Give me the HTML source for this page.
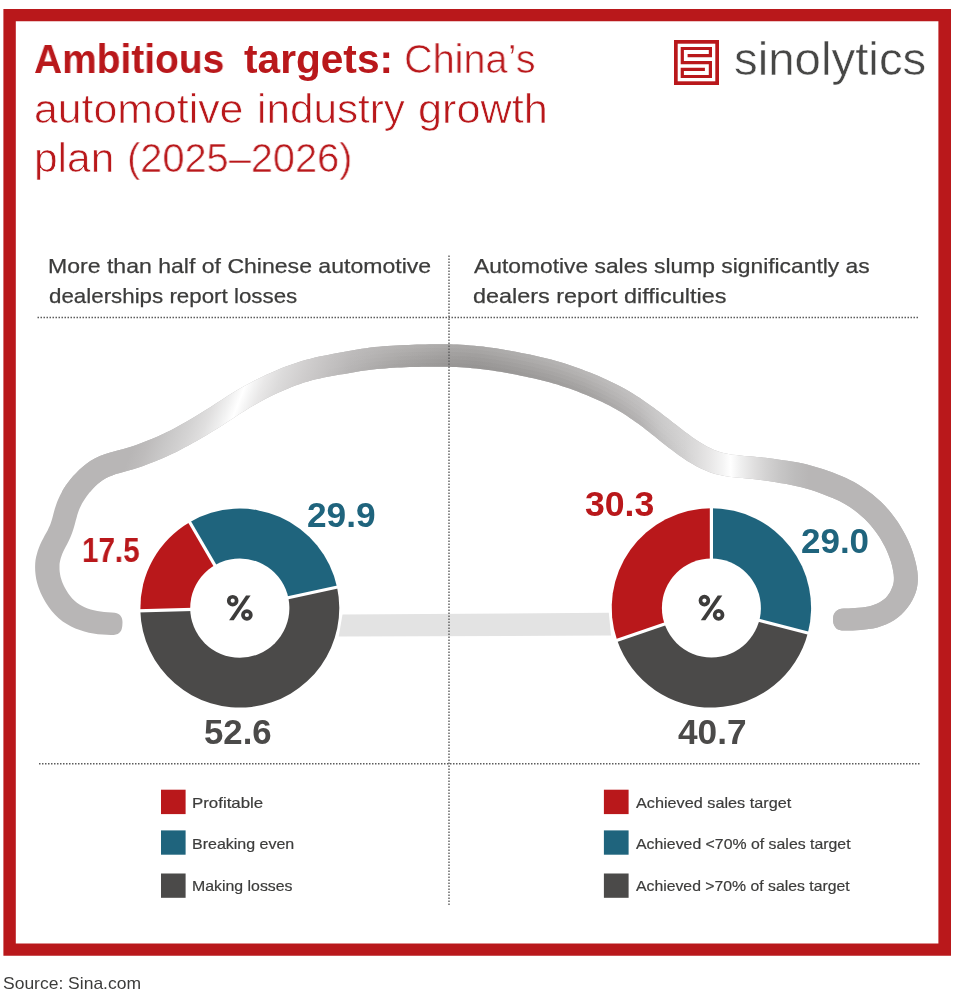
<!DOCTYPE html>
<html><head><meta charset="utf-8"><title>Ambitious targets</title>
<style>
html,body{margin:0;padding:0;background:#fff;}
body{width:961px;height:1003px;position:relative;overflow:hidden;font-family:"Liberation Sans",sans-serif;}
.t{position:absolute;white-space:nowrap;line-height:1;transform-origin:0 0;will-change:transform;}
svg{position:absolute;left:0;top:0;}
</style></head><body>
<svg width="961" height="1003" viewBox="0 0 961 1003">
<defs>
<linearGradient id="cgl" gradientUnits="userSpaceOnUse" x1="0" y1="0" x2="560.2" y2="215.0">
<stop offset="0.0000" stop-color="#b8b6b6"/>
<stop offset="0.4733" stop-color="#b8b6b6"/>
<stop offset="0.4950" stop-color="#bebcbc"/>
<stop offset="0.5200" stop-color="#c8c7c7"/>
<stop offset="0.5500" stop-color="#d4d3d3"/>
<stop offset="0.5733" stop-color="#e0dfdf"/>
<stop offset="0.5950" stop-color="#f0f0f0"/>
<stop offset="0.6117" stop-color="#ffffff"/>
<stop offset="0.6250" stop-color="#f3f3f3"/>
<stop offset="0.6383" stop-color="#e9e8e8"/>
<stop offset="0.6617" stop-color="#dcdbdb"/>
<stop offset="0.6967" stop-color="#cfcdcd"/>
<stop offset="0.7317" stop-color="#c3c1c1"/>
<stop offset="0.7617" stop-color="#bab8b8"/>
<stop offset="0.8350" stop-color="#acaaa9"/>
<stop offset="0.9100" stop-color="#a19f9e"/>
<stop offset="1.0000" stop-color="#9f9d9c"/>
</linearGradient>
<linearGradient id="cgr" gradientUnits="userSpaceOnUse" x1="449" y1="0" x2="949" y2="0">
<stop offset="0.0000" stop-color="#a19f9e"/>
<stop offset="0.0520" stop-color="#9f9d9c"/>
<stop offset="0.1620" stop-color="#a6a4a3"/>
<stop offset="0.2720" stop-color="#aeacab"/>
<stop offset="0.3820" stop-color="#bdbbbb"/>
<stop offset="0.4220" stop-color="#c8c7c7"/>
<stop offset="0.4470" stop-color="#cecdcd"/>
<stop offset="0.4720" stop-color="#d4d3d3"/>
<stop offset="0.4970" stop-color="#dddcdc"/>
<stop offset="0.5220" stop-color="#e8e7e7"/>
<stop offset="0.5468" stop-color="#f4f4f4"/>
<stop offset="0.5632" stop-color="#ffffff"/>
<stop offset="0.5840" stop-color="#efefef"/>
<stop offset="0.6094" stop-color="#e0dfdf"/>
<stop offset="0.6340" stop-color="#d3d2d2"/>
<stop offset="0.6620" stop-color="#c7c6c6"/>
<stop offset="0.6912" stop-color="#bdbcbc"/>
<stop offset="0.7200" stop-color="#b8b6b6"/>
<stop offset="1.0000" stop-color="#b8b6b6"/>
</linearGradient>
<linearGradient id="sw" gradientUnits="userSpaceOnUse" x1="320" y1="0" x2="700" y2="0">
<stop offset="0" stop-color="#fff" stop-opacity="0"/><stop offset="0.2105" stop-color="#fff" stop-opacity="0.085"/><stop offset="0.4079" stop-color="#fff" stop-opacity="0.11"/><stop offset="0.6974" stop-color="#fff" stop-opacity="0.125"/><stop offset="0.8421" stop-color="#fff" stop-opacity="0.1"/><stop offset="1" stop-color="#fff" stop-opacity="0"/>
</linearGradient>
<linearGradient id="sb" gradientUnits="userSpaceOnUse" x1="320" y1="0" x2="700" y2="0">
<stop offset="0" stop-color="#000" stop-opacity="0"/><stop offset="0.2105" stop-color="#000" stop-opacity="0.042"/><stop offset="0.4079" stop-color="#000" stop-opacity="0.055"/><stop offset="0.6974" stop-color="#000" stop-opacity="0.06"/><stop offset="0.8421" stop-color="#000" stop-opacity="0.048"/><stop offset="1" stop-color="#000" stop-opacity="0"/>
</linearGradient>
<path id="car" d="M111.7,612.4 L107.8,612.2 L104.1,611.9 L100.6,611.6 L97.3,611.0 L93.9,610.3 L90.7,609.5 L87.6,608.4 L84.6,607.2 L81.7,605.8 L79.1,604.3 L76.6,602.5 L74.3,600.6 L72.2,598.5 L70.2,596.1 L68.3,593.6 L66.6,590.8 L65.0,588.0 L63.7,585.5 L62.7,583.2 L61.9,581.2 L61.3,579.2 L60.6,576.9 L60.1,574.4 L59.7,571.8 L59.5,569.3 L59.5,567.1 L59.5,565.1 L59.6,563.4 L59.9,561.8 L60.3,560.1 L60.8,558.1 L61.5,555.9 L62.3,553.7 L63.3,551.6 L64.4,549.3 L65.7,546.8 L67.2,543.9 L68.8,540.7 L70.4,537.2 L71.9,533.6 L73.1,530.1 L74.1,526.7 L75.0,523.6 L75.7,520.7 L76.5,517.9 L77.2,515.2 L78.0,512.7 L78.9,510.3 L79.8,508.1 L80.8,505.9 L82.0,503.6 L83.4,501.2 L85.0,498.7 L86.7,496.2 L88.6,493.7 L90.6,491.2 L92.8,488.7 L95.2,486.3 L97.6,484.0 L100.2,481.9 L102.9,479.9 L105.8,478.2 L108.8,476.7 L112.2,475.4 L115.9,474.1 L119.9,473.0 L124.2,471.8 L128.6,470.6 L133.2,469.2 L137.9,467.7 L143.1,465.9 L148.7,463.8 L154.7,461.4 L160.8,458.9 L166.5,456.4 L171.7,454.1 L176.2,451.9 L180.4,449.7 L184.4,447.6 L188.5,445.4 L192.7,443.1 L197.0,440.7 L201.6,438.1 L206.4,435.3 L211.5,432.1 L217.0,428.7 L222.5,425.2 L228.1,421.5 L233.6,417.9 L239.1,414.3 L244.5,410.9 L249.9,407.6 L255.3,404.4 L260.6,401.5 L265.7,398.8 L270.6,396.3 L275.3,394.1 L279.8,392.0 L284.0,390.2 L288.1,388.4 L292.1,386.8 L296.1,385.3 L300.0,383.9 L303.9,382.6 L307.9,381.4 L311.8,380.3 L315.8,379.3 L319.8,378.4 L323.8,377.6 L327.8,376.8 L331.9,376.0 L336.0,375.3 L340.1,374.6 L344.3,373.9 L348.5,373.2 L352.7,372.5 L356.8,371.8 L360.9,371.1 L364.9,370.5 L368.9,370.0 L372.9,369.5 L377.0,369.1 L381.0,368.7 L385.1,368.4 L389.1,368.1 L393.1,367.8 L397.2,367.6 L401.2,367.4 L405.3,367.2 L409.4,367.1 L413.6,367.0 L417.7,366.9 L421.8,366.8 L425.9,366.8 L430.0,366.7 L434.1,366.7 L438.1,366.7 L441.9,366.8 L445.5,366.8 L449.0,366.8 L452.6,366.9 L456.3,367.1 L460.2,367.3 L464.2,367.5 L468.2,367.8 L472.3,368.2 L476.3,368.6 L480.4,369.0 L484.4,369.5 L488.5,370.0 L492.5,370.6 L496.5,371.2 L500.6,371.8 L504.6,372.5 L508.7,373.2 L512.7,374.0 L516.8,374.8 L520.9,375.7 L525.0,376.5 L529.2,377.4 L533.3,378.3 L537.4,379.3 L541.5,380.2 L545.5,381.2 L549.5,382.3 L553.5,383.4 L557.5,384.6 L561.5,385.9 L565.6,387.2 L569.6,388.6 L573.6,390.1 L577.7,391.6 L581.7,393.2 L585.8,394.8 L589.8,396.4 L593.8,398.2 L597.8,400.0 L601.8,401.8 L605.7,403.7 L609.4,405.6 L612.9,407.4 L616.1,409.2 L619.1,410.9 L621.8,412.6 L624.5,414.3 L627.2,416.1 L629.9,417.9 L632.6,419.8 L635.3,421.7 L638.0,423.6 L640.7,425.6 L643.4,427.6 L646.1,429.7 L648.8,431.7 L651.5,433.9 L654.2,436.0 L656.9,438.2 L659.6,440.4 L662.4,442.7 L665.3,445.0 L668.4,447.4 L671.7,449.8 L675.2,452.5 L678.9,455.2 L683.0,458.0 L687.3,460.9 L691.8,463.6 L696.4,466.2 L701.0,468.5 L705.7,470.6 L710.4,472.4 L715.2,473.9 L719.9,475.1 L724.6,476.0 L729.2,476.7 L733.7,477.2 L738.0,477.7 L742.3,478.1 L746.5,478.4 L750.6,478.8 L754.7,479.2 L758.7,479.7 L762.6,480.2 L766.3,480.7 L769.8,481.3 L772.9,481.8 L776.1,482.3 L779.6,482.9 L783.5,483.6 L787.8,484.3 L792.3,485.2 L796.9,486.2 L801.4,487.3 L806.0,488.5 L810.5,489.8 L815.1,491.3 L819.8,493.0 L824.3,494.7 L828.7,496.4 L832.6,498.0 L836.1,499.6 L839.4,501.1 L842.6,502.8 L846.1,504.8 L849.8,507.1 L853.7,509.8 L857.6,512.8 L861.3,515.9 L864.8,519.1 L867.9,522.3 L870.8,525.5 L873.4,528.7 L875.9,531.9 L878.2,535.2 L880.5,538.7 L882.6,542.4 L884.7,546.2 L886.5,550.1 L888.2,554.0 L889.6,557.7 L890.8,561.3 L891.8,564.8 L892.6,568.2 L893.2,571.5 L893.7,574.5 L893.9,577.3 L893.9,579.6 L893.8,581.5 L893.5,583.3 L893.0,585.2 L892.3,587.3 L891.3,589.6 L890.2,591.9 L888.8,594.0 L887.4,596.0 L885.7,597.9 L883.8,599.5 L881.7,601.1 L879.3,602.5 L876.8,603.7 L874.1,604.8 L871.4,605.7 L868.5,606.4 L865.4,607.0 L862.1,607.4 L858.5,607.8 L855.0,608.0 L851.7,608.3 L848.8,608.4 L846.2,608.5 L843.8,608.6 L841.2,608.8 L839.2,609.3 L837.4,610.2 L836.0,611.3 L834.8,612.7 L833.9,614.3 L833.3,616.2 L833.1,618.5 L833.1,621.4 L833.5,623.6 L834.2,625.4 L835.2,627.0 L836.4,628.4 L838.0,629.4 L839.7,630.1 L841.8,630.6 L844.4,630.6 L846.9,630.6 L849.6,630.5 L852.8,630.4 L856.4,630.2 L860.3,630.0 L864.5,629.6 L868.8,629.1 L873.0,628.4 L877.3,627.4 L881.6,626.1 L885.8,624.5 L890.0,622.5 L894.0,620.2 L897.8,617.5 L901.4,614.5 L904.7,611.1 L907.6,607.6 L910.1,604.0 L912.3,600.3 L914.1,596.5 L915.6,592.7 L916.8,588.8 L917.5,584.6 L917.9,580.3 L917.8,575.9 L917.4,571.6 L916.7,567.3 L915.8,563.0 L914.7,558.7 L913.4,554.2 L911.9,549.7 L910.1,545.1 L908.0,540.3 L905.7,535.6 L903.2,530.9 L900.6,526.4 L897.8,522.0 L894.9,518.0 L891.9,514.0 L888.7,510.1 L885.1,506.1 L881.2,502.1 L876.9,498.2 L872.3,494.3 L867.5,490.7 L862.8,487.4 L858.2,484.6 L854.0,482.1 L849.9,480.0 L846.0,478.1 L841.9,476.3 L837.5,474.5 L832.7,472.6 L827.7,470.8 L822.6,469.0 L817.4,467.4 L812.3,465.9 L807.1,464.5 L801.9,463.3 L796.7,462.3 L791.8,461.5 L787.2,460.8 L783.1,460.2 L779.6,459.7 L776.4,459.2 L773.1,458.7 L769.4,458.3 L765.4,457.8 L761.2,457.3 L756.9,456.9 L752.6,456.5 L748.3,456.2 L744.2,455.9 L740.1,455.5 L736.1,455.1 L732.3,454.7 L728.5,454.1 L724.9,453.3 L721.4,452.4 L717.8,451.2 L714.2,449.9 L710.6,448.3 L706.9,446.4 L703.2,444.3 L699.4,441.9 L695.6,439.4 L691.9,436.9 L688.4,434.3 L685.1,431.9 L682.0,429.6 L679.1,427.3 L676.3,425.1 L673.5,423.0 L670.7,420.8 L668.0,418.6 L665.1,416.4 L662.3,414.2 L659.5,412.0 L656.6,409.9 L653.7,407.8 L650.8,405.7 L648.0,403.7 L645.1,401.7 L642.3,399.7 L639.5,397.8 L636.5,395.9 L633.5,393.9 L630.3,392.0 L626.9,390.0 L623.3,388.0 L619.5,386.1 L615.5,384.0 L611.3,382.0 L607.1,380.0 L602.8,378.0 L598.5,376.1 L594.2,374.3 L589.9,372.6 L585.6,370.9 L581.4,369.3 L577.1,367.7 L572.8,366.2 L568.5,364.7 L564.1,363.3 L559.8,362.0 L555.4,360.7 L551.1,359.6 L546.8,358.5 L542.5,357.5 L538.2,356.5 L534.0,355.6 L529.8,354.6 L525.6,353.7 L521.3,352.9 L517.0,352.0 L512.8,351.2 L508.5,350.4 L504.2,349.7 L500.0,349.0 L495.8,348.3 L491.5,347.7 L487.2,347.2 L482.9,346.6 L478.7,346.2 L474.4,345.8 L470.1,345.4 L465.7,345.1 L461.5,344.8 L457.3,344.6 L453.3,344.4 L449.5,344.3 L445.8,344.3 L442.0,344.3 L438.1,344.3 L434.0,344.3 L429.8,344.3 L425.6,344.4 L421.4,344.5 L417.1,344.6 L412.9,344.7 L408.7,344.9 L404.5,345.0 L400.2,345.2 L396.0,345.4 L391.7,345.7 L387.5,346.0 L383.2,346.3 L378.9,346.7 L374.7,347.1 L370.4,347.6 L366.1,348.2 L361.8,348.8 L357.4,349.5 L353.1,350.2 L348.9,351.0 L344.7,351.8 L340.5,352.6 L336.3,353.3 L332.2,354.1 L327.9,354.9 L323.7,355.7 L319.4,356.6 L315.0,357.6 L310.7,358.7 L306.3,359.8 L301.9,361.1 L297.5,362.4 L293.1,363.9 L288.8,365.4 L284.4,367.1 L280.1,368.8 L275.7,370.7 L271.1,372.7 L266.4,374.8 L261.4,377.2 L256.1,379.8 L250.5,382.7 L244.8,385.8 L239.0,389.1 L233.2,392.6 L227.5,396.1 L221.9,399.7 L216.3,403.3 L210.7,406.9 L205.3,410.3 L200.1,413.6 L195.2,416.6 L190.6,419.3 L186.3,421.7 L182.2,424.0 L178.2,426.2 L174.2,428.4 L170.4,430.4 L166.6,432.3 L162.5,434.3 L157.7,436.4 L152.3,438.7 L146.5,441.1 L140.8,443.3 L135.6,445.2 L131.0,446.7 L126.8,448.0 L122.6,449.2 L118.4,450.3 L114.0,451.5 L109.4,452.7 L104.7,454.2 L99.9,456.0 L95.2,458.2 L90.7,460.8 L86.5,463.7 L82.8,466.7 L79.3,469.7 L76.2,472.9 L73.2,476.0 L70.5,479.2 L68.0,482.5 L65.6,485.8 L63.5,489.1 L61.7,492.3 L60.0,495.5 L58.5,498.7 L57.1,502.0 L56.0,505.3 L54.9,508.5 L54.0,511.7 L53.2,514.7 L52.5,517.5 L51.7,520.2 L50.9,522.7 L50.0,525.2 L48.9,527.6 L47.7,530.2 L46.3,532.8 L44.7,535.6 L43.2,538.4 L41.7,541.3 L40.2,544.4 L39.0,547.5 L37.8,550.7 L36.9,553.9 L36.1,557.0 L35.5,560.2 L35.2,563.6 L35.1,567.1 L35.2,570.9 L35.6,574.9 L36.2,578.9 L37.1,582.8 L38.2,586.4 L39.4,589.8 L40.7,593.0 L42.3,596.2 L44.0,599.5 L46.2,603.2 L48.7,607.1 L51.7,611.0 L55.1,614.8 L58.7,618.2 L62.7,621.4 L66.8,624.1 L71.1,626.4 L75.4,628.4 L79.8,630.1 L84.3,631.6 L88.9,632.7 L93.4,633.6 L97.9,634.2 L102.4,634.6 L106.7,634.8 L110.7,634.9 L113.8,634.9 L115.9,634.5 L117.7,633.9 L119.1,632.9 L120.3,631.7 L121.3,630.2 L121.9,628.3 L122.3,626.0 L122.5,622.3 L122.3,619.9 L121.8,618.0 L121.0,616.4 L119.9,615.1 L118.5,614.0 L116.8,613.2 L114.8,612.7Z"/>
<clipPath id="cc"><use href="#car"/></clipPath>
<clipPath id="cl"><rect x="0" y="300" width="449" height="192"/></clipPath>
<clipPath id="cr"><rect x="449" y="300" width="520" height="400"/></clipPath>
</defs>
<path fill-rule="evenodd" fill="#b9181b" d="M3.4,9.05 H951 V955.8 H3.4Z M15.8,21.2 V943.6 H938.4 V21.2Z"/>
<use href="#car" fill="#b8b6b6"/>
<use href="#car" fill="url(#cgl)" clip-path="url(#cl)"/>
<use href="#car" fill="url(#cgr)" clip-path="url(#cr)"/>
<g clip-path="url(#cc)"><path d="M310.4,357.4 L314.7,356.4 L319.1,355.4 L323.4,354.5 L327.7,353.6 L331.9,352.8 L336.1,352.0 L340.3,351.3 L344.4,350.5 L348.7,349.7 L352.9,348.9 L357.2,348.2 L361.6,347.5 L365.9,346.9 L370.2,346.3 L374.5,345.8 L378.8,345.4 L383.1,345.0 L387.4,344.6 L391.6,344.3 L395.9,344.1 L400.2,343.9 L404.4,343.7 L408.7,343.5 L412.9,343.4 L417.1,343.2 L421.3,343.1 L425.6,343.1 L429.8,343.0 L434.0,342.9 L438.1,342.9 L442.0,342.9 L445.8,342.9 L449.5,343.0 L453.4,343.1 L457.4,343.2 L461.6,343.4 L465.8,343.7 L470.2,344.0 L474.5,344.4 L478.8,344.8 L483.1,345.3 L487.4,345.8 L491.7,346.4 L496.0,347.0 L500.2,347.7 L504.5,348.4 L508.7,349.1 L513.0,349.9 L517.3,350.7 L521.6,351.5 L525.8,352.4 L530.0,353.3 L534.3,354.2 L538.5,355.2 L542.8,356.1 L547.1,357.2 L551.4,358.3 L555.8,359.4 L560.2,360.7 L564.5,362.0 L568.9,363.4 L573.2,364.9 L577.5,366.4 L581.8,368.0 L586.1,369.7 L590.4,371.4 L594.7,373.1 L599.0,374.9 L603.3,376.8 L607.6,378.8 L611.9,380.8 L616.1,382.9 L620.1,384.9 L623.9,386.9 L627.5,388.8 L631.0,390.8 L634.2,392.8 L637.3,394.8 L640.2,396.7 L643.0,398.7 L645.9,400.6 L648.7,402.6 L651.6,404.6 L654.5,406.7 L657.4,408.8 L660.3,411.0 L663.1,413.2 L666.0,415.3 L668.8,417.5 L671.6,419.7 L674.3,421.9 L677.1,424.1 L679.9,426.3 L682.8,428.5 L685.9,430.8 L689.2,433.2 L692.7,435.8 L696.4,438.3 L700.1,440.8 L703.9,443.1 L707.6,445.2 L711.2,447.0 L709.0,451.6 L705.2,449.7 L701.3,447.5 L697.4,445.1 L693.5,442.5 L689.8,439.9 L686.2,437.3 L682.9,434.9 L679.8,432.5 L676.8,430.3 L674.0,428.1 L671.2,425.9 L668.4,423.7 L665.7,421.5 L662.9,419.3 L660.1,417.1 L657.2,415.0 L654.4,412.9 L651.5,410.8 L648.7,408.7 L645.9,406.7 L643.0,404.7 L640.2,402.8 L637.4,400.8 L634.5,398.9 L631.6,397.0 L628.4,395.1 L625.1,393.2 L621.6,391.3 L617.8,389.3 L613.9,387.3 L609.7,385.3 L605.5,383.3 L601.3,381.4 L597.0,379.5 L592.8,377.7 L588.5,376.0 L584.3,374.4 L580.1,372.7 L575.8,371.2 L571.6,369.7 L567.3,368.2 L563.0,366.9 L558.8,365.6 L554.5,364.3 L550.2,363.2 L545.9,362.1 L541.6,361.1 L537.4,360.1 L533.2,359.2 L529.0,358.3 L524.8,357.4 L520.6,356.5 L516.3,355.7 L512.1,354.9 L507.9,354.1 L503.6,353.4 L499.4,352.7 L495.2,352.0 L491.0,351.4 L486.8,350.9 L482.5,350.4 L478.3,349.9 L474.0,349.5 L469.8,349.1 L465.5,348.8 L461.3,348.5 L457.2,348.3 L453.2,348.2 L449.4,348.1 L445.7,348.0 L442.0,348.0 L438.1,348.0 L434.0,348.0 L429.9,348.1 L425.7,348.1 L421.4,348.2 L417.2,348.3 L413.0,348.4 L408.8,348.6 L404.6,348.7 L400.4,348.9 L396.2,349.1 L392.0,349.4 L387.7,349.6 L383.5,350.0 L379.3,350.4 L375.1,350.8 L370.8,351.3 L366.6,351.8 L362.3,352.4 L358.0,353.1 L353.8,353.8 L349.5,354.6 L345.3,355.3 L341.1,356.1 L337.0,356.9 L332.8,357.6 L328.6,358.4 L324.4,359.2 L320.1,360.1 L315.8,361.1 L311.5,362.1Z" fill="url(#sw)" opacity="1.0"/>
<path d="M311.5,362.1 L315.8,361.1 L320.1,360.1 L324.4,359.2 L328.6,358.4 L332.8,357.6 L337.0,356.9 L341.1,356.1 L345.3,355.3 L349.5,354.6 L353.8,353.8 L358.0,353.1 L362.3,352.4 L366.6,351.8 L370.8,351.3 L375.1,350.8 L379.3,350.4 L383.5,350.0 L387.7,349.6 L392.0,349.4 L396.2,349.1 L400.4,348.9 L404.6,348.7 L408.8,348.6 L413.0,348.4 L417.2,348.3 L421.4,348.2 L425.7,348.1 L429.9,348.1 L434.0,348.0 L438.1,348.0 L442.0,348.0 L445.7,348.0 L449.4,348.1 L453.2,348.2 L457.2,348.3 L461.3,348.5 L465.5,348.8 L469.8,349.1 L474.0,349.5 L478.3,349.9 L482.5,350.4 L486.8,350.9 L491.0,351.4 L495.2,352.0 L499.4,352.7 L503.6,353.4 L507.9,354.1 L512.1,354.9 L516.3,355.7 L520.6,356.5 L524.8,357.4 L529.0,358.3 L533.2,359.2 L537.4,360.1 L541.6,361.1 L545.9,362.1 L550.2,363.2 L554.5,364.3 L558.8,365.6 L563.0,366.9 L567.3,368.2 L571.6,369.7 L575.8,371.2 L580.1,372.7 L584.3,374.4 L588.5,376.0 L592.8,377.7 L597.0,379.5 L601.3,381.4 L605.5,383.3 L609.7,385.3 L613.9,387.3 L617.8,389.3 L621.6,391.3 L625.1,393.2 L628.4,395.1 L631.6,397.0 L634.5,398.9 L637.4,400.8 L640.2,402.8 L643.0,404.7 L645.9,406.7 L648.7,408.7 L651.5,410.8 L654.4,412.9 L657.2,415.0 L660.1,417.1 L662.9,419.3 L665.7,421.5 L668.4,423.7 L671.2,425.9 L674.0,428.1 L676.8,430.3 L679.8,432.5 L682.9,434.9 L686.2,437.3 L689.8,439.9 L693.5,442.5 L697.4,445.1 L701.3,447.5 L705.2,449.7 L709.0,451.6 L707.4,455.0 L703.4,453.0 L699.4,450.7 L695.4,448.2 L691.4,445.6 L687.6,443.0 L684.0,440.4 L680.6,437.9 L677.5,435.5 L674.5,433.2 L671.7,431.0 L668.9,428.8 L666.1,426.6 L663.4,424.4 L660.6,422.2 L657.8,420.1 L655.0,417.9 L652.2,415.8 L649.4,413.7 L646.6,411.7 L643.7,409.7 L640.9,407.7 L638.2,405.8 L635.4,403.9 L632.5,402.0 L629.6,400.1 L626.6,398.3 L623.3,396.4 L619.8,394.5 L616.1,392.6 L612.2,390.6 L608.2,388.6 L604.0,386.6 L599.8,384.7 L595.6,382.9 L591.4,381.2 L587.2,379.5 L583.0,377.8 L578.8,376.2 L574.6,374.7 L570.4,373.2 L566.2,371.8 L561.9,370.4 L557.7,369.1 L553.5,367.9 L549.2,366.8 L545.0,365.7 L540.8,364.7 L536.6,363.8 L532.4,362.8 L528.2,361.9 L524.0,361.0 L519.8,360.2 L515.6,359.3 L511.4,358.5 L507.2,357.8 L503.0,357.1 L498.8,356.4 L494.7,355.8 L490.5,355.2 L486.3,354.6 L482.1,354.1 L477.9,353.6 L473.7,353.2 L469.4,352.9 L465.2,352.5 L461.1,352.3 L457.0,352.1 L453.1,351.9 L449.3,351.8 L445.7,351.8 L441.9,351.8 L438.1,351.8 L434.0,351.8 L429.9,351.8 L425.7,351.9 L421.5,351.9 L417.3,352.0 L413.1,352.1 L408.9,352.3 L404.8,352.4 L400.6,352.6 L396.4,352.8 L392.2,353.0 L388.0,353.3 L383.8,353.7 L379.6,354.0 L375.4,354.5 L371.2,354.9 L367.0,355.5 L362.8,356.0 L358.6,356.7 L354.4,357.4 L350.2,358.1 L346.0,358.9 L341.8,359.7 L337.6,360.4 L333.4,361.2 L329.2,361.9 L325.0,362.8 L320.8,363.6 L316.6,364.6 L312.4,365.6Z" fill="url(#sw)" opacity="0.65"/>
<path d="M312.4,365.6 L316.6,364.6 L320.8,363.6 L325.0,362.8 L329.2,361.9 L333.4,361.2 L337.6,360.4 L341.8,359.7 L346.0,358.9 L350.2,358.1 L354.4,357.4 L358.6,356.7 L362.8,356.0 L367.0,355.5 L371.2,354.9 L375.4,354.5 L379.6,354.0 L383.8,353.7 L388.0,353.3 L392.2,353.0 L396.4,352.8 L400.6,352.6 L404.8,352.4 L408.9,352.3 L413.1,352.1 L417.3,352.0 L421.5,351.9 L425.7,351.9 L429.9,351.8 L434.0,351.8 L438.1,351.8 L441.9,351.8 L445.7,351.8 L449.3,351.8 L453.1,351.9 L457.0,352.1 L461.1,352.3 L465.2,352.5 L469.4,352.9 L473.7,353.2 L477.9,353.6 L482.1,354.1 L486.3,354.6 L490.5,355.2 L494.7,355.8 L498.8,356.4 L503.0,357.1 L507.2,357.8 L511.4,358.5 L515.6,359.3 L519.8,360.2 L524.0,361.0 L528.2,361.9 L532.4,362.8 L536.6,363.8 L540.8,364.7 L545.0,365.7 L549.2,366.8 L553.5,367.9 L557.7,369.1 L561.9,370.4 L566.2,371.8 L570.4,373.2 L574.6,374.7 L578.8,376.2 L583.0,377.8 L587.2,379.5 L591.4,381.2 L595.6,382.9 L599.8,384.7 L604.0,386.6 L608.2,388.6 L612.2,390.6 L616.1,392.6 L619.8,394.5 L623.3,396.4 L626.6,398.3 L629.6,400.1 L632.5,402.0 L635.4,403.9 L638.2,405.8 L640.9,407.7 L643.7,409.7 L646.6,411.7 L649.4,413.7 L652.2,415.8 L655.0,417.9 L657.8,420.1 L660.6,422.2 L663.4,424.4 L666.1,426.6 L668.9,428.8 L671.7,431.0 L674.5,433.2 L677.5,435.5 L680.6,437.9 L684.0,440.4 L687.6,443.0 L691.4,445.6 L695.4,448.2 L699.4,450.7 L703.4,453.0 L707.4,455.0 L705.8,458.4 L701.6,456.3 L697.5,454.0 L693.3,451.4 L689.3,448.7 L685.4,446.0 L681.8,443.4 L678.4,440.9 L675.2,438.5 L672.2,436.1 L669.4,433.9 L666.6,431.7 L663.8,429.5 L661.1,427.3 L658.3,425.1 L655.5,423.0 L652.8,420.8 L650.0,418.8 L647.2,416.7 L644.4,414.7 L641.6,412.7 L638.8,410.7 L636.1,408.8 L633.3,406.9 L630.5,405.1 L627.7,403.2 L624.7,401.4 L621.5,399.6 L618.1,397.7 L614.5,395.8 L610.6,393.9 L606.6,391.9 L602.4,390.0 L598.3,388.1 L594.1,386.3 L590.0,384.6 L585.8,382.9 L581.7,381.3 L577.5,379.7 L573.3,378.2 L569.2,376.7 L565.0,375.3 L560.8,374.0 L556.7,372.7 L552.5,371.5 L548.3,370.4 L544.1,369.4 L539.9,368.4 L535.7,367.4 L531.6,366.5 L527.4,365.6 L523.2,364.7 L519.1,363.8 L514.9,363.0 L510.7,362.2 L506.6,361.5 L502.4,360.7 L498.3,360.1 L494.1,359.5 L490.0,358.9 L485.8,358.3 L481.7,357.8 L477.5,357.4 L473.3,357.0 L469.1,356.6 L465.0,356.3 L460.9,356.0 L456.8,355.8 L453.0,355.7 L449.3,355.6 L445.6,355.5 L441.9,355.5 L438.1,355.5 L434.0,355.5 L429.9,355.5 L425.8,355.6 L421.6,355.6 L417.4,355.7 L413.2,355.8 L409.1,356.0 L404.9,356.1 L400.7,356.3 L396.6,356.5 L392.4,356.7 L388.3,357.0 L384.1,357.3 L380.0,357.7 L375.8,358.1 L371.7,358.6 L367.5,359.1 L363.3,359.7 L359.2,360.3 L355.0,361.0 L350.8,361.7 L346.6,362.5 L342.4,363.2 L338.2,364.0 L334.1,364.7 L329.9,365.5 L325.7,366.3 L321.6,367.1 L317.4,368.0 L313.2,369.0Z" fill="url(#sw)" opacity="0.22"/>
<path d="M313.2,369.0 L317.4,368.0 L321.6,367.1 L325.7,366.3 L329.9,365.5 L334.1,364.7 L338.2,364.0 L342.4,363.2 L346.6,362.5 L350.8,361.7 L355.0,361.0 L359.2,360.3 L363.3,359.7 L367.5,359.1 L371.7,358.6 L375.8,358.1 L380.0,357.7 L384.1,357.3 L388.3,357.0 L392.4,356.7 L396.6,356.5 L400.7,356.3 L404.9,356.1 L409.1,356.0 L413.2,355.8 L417.4,355.7 L421.6,355.6 L425.8,355.6 L429.9,355.5 L434.0,355.5 L438.1,355.5 L441.9,355.5 L445.6,355.5 L449.3,355.6 L453.0,355.7 L456.8,355.8 L460.9,356.0 L465.0,356.3 L469.1,356.6 L473.3,357.0 L477.5,357.4 L481.7,357.8 L485.8,358.3 L490.0,358.9 L494.1,359.5 L498.3,360.1 L502.4,360.7 L506.6,361.5 L510.7,362.2 L514.9,363.0 L519.1,363.8 L523.2,364.7 L527.4,365.6 L531.6,366.5 L535.7,367.4 L539.9,368.4 L544.1,369.4 L548.3,370.4 L552.5,371.5 L556.7,372.7 L560.8,374.0 L565.0,375.3 L569.2,376.7 L573.3,378.2 L577.5,379.7 L581.7,381.3 L585.8,382.9 L590.0,384.6 L594.1,386.3 L598.3,388.1 L602.4,390.0 L606.6,391.9 L610.6,393.9 L614.5,395.8 L618.1,397.7 L621.5,399.6 L624.7,401.4 L627.7,403.2 L630.5,405.1 L633.3,406.9 L636.1,408.8 L638.8,410.7 L641.6,412.7 L644.4,414.7 L647.2,416.7 L650.0,418.8 L652.8,420.8 L655.5,423.0 L658.3,425.1 L661.1,427.3 L663.8,429.5 L666.6,431.7 L669.4,433.9 L672.2,436.1 L675.2,438.5 L678.4,440.9 L681.8,443.4 L685.4,446.0 L689.3,448.7 L693.3,451.4 L697.5,454.0 L701.6,456.3 L705.8,458.4 L704.2,461.8 L699.9,459.6 L695.6,457.2 L691.3,454.6 L687.2,451.8 L683.3,449.1 L679.6,446.4 L676.1,443.9 L672.9,441.4 L669.9,439.1 L667.1,436.8 L664.3,434.6 L661.5,432.4 L658.8,430.2 L656.0,428.0 L653.3,425.9 L650.5,423.8 L647.8,421.7 L645.0,419.6 L642.3,417.6 L639.5,415.7 L636.8,413.7 L634.0,411.8 L631.3,410.0 L628.5,408.1 L625.7,406.4 L622.8,404.6 L619.7,402.8 L616.4,401.0 L612.8,399.1 L609.0,397.2 L605.0,395.2 L600.9,393.3 L596.8,391.5 L592.7,389.7 L588.6,388.0 L584.5,386.3 L580.3,384.7 L576.2,383.2 L572.1,381.7 L568.0,380.2 L563.8,378.8 L559.7,377.5 L555.6,376.3 L551.5,375.1 L547.4,374.0 L543.2,373.0 L539.1,372.0 L534.9,371.1 L530.8,370.1 L526.6,369.2 L522.5,368.4 L518.3,367.5 L514.2,366.7 L510.1,365.9 L505.9,365.1 L501.8,364.4 L497.7,363.8 L493.6,363.2 L489.5,362.6 L485.4,362.0 L481.2,361.5 L477.1,361.1 L473.0,360.7 L468.8,360.3 L464.7,360.0 L460.6,359.8 L456.7,359.6 L452.9,359.4 L449.2,359.3 L445.6,359.3 L441.9,359.3 L438.1,359.2 L434.1,359.2 L430.0,359.3 L425.8,359.3 L421.6,359.4 L417.5,359.4 L413.3,359.6 L409.2,359.7 L405.0,359.8 L400.9,360.0 L396.8,360.2 L392.7,360.4 L388.5,360.7 L384.4,361.0 L380.3,361.4 L376.2,361.8 L372.1,362.2 L368.0,362.7 L363.9,363.3 L359.7,363.9 L355.6,364.6 L351.4,365.3 L347.2,366.0 L343.1,366.8 L338.9,367.5 L334.7,368.3 L330.6,369.0 L326.4,369.8 L322.3,370.6 L318.2,371.5 L314.1,372.4Z" fill="url(#sb)" opacity="0.22"/>
<path d="M314.1,372.4 L318.2,371.5 L322.3,370.6 L326.4,369.8 L330.6,369.0 L334.7,368.3 L338.9,367.5 L343.1,366.8 L347.2,366.0 L351.4,365.3 L355.6,364.6 L359.7,363.9 L363.9,363.3 L368.0,362.7 L372.1,362.2 L376.2,361.8 L380.3,361.4 L384.4,361.0 L388.5,360.7 L392.7,360.4 L396.8,360.2 L400.9,360.0 L405.0,359.8 L409.2,359.7 L413.3,359.6 L417.5,359.4 L421.6,359.4 L425.8,359.3 L430.0,359.3 L434.1,359.2 L438.1,359.2 L441.9,359.3 L445.6,359.3 L449.2,359.3 L452.9,359.4 L456.7,359.6 L460.6,359.8 L464.7,360.0 L468.8,360.3 L473.0,360.7 L477.1,361.1 L481.2,361.5 L485.4,362.0 L489.5,362.6 L493.6,363.2 L497.7,363.8 L501.8,364.4 L505.9,365.1 L510.1,365.9 L514.2,366.7 L518.3,367.5 L522.5,368.4 L526.6,369.2 L530.8,370.1 L534.9,371.1 L539.1,372.0 L543.2,373.0 L547.4,374.0 L551.5,375.1 L555.6,376.3 L559.7,377.5 L563.8,378.8 L568.0,380.2 L572.1,381.7 L576.2,383.2 L580.3,384.7 L584.5,386.3 L588.6,388.0 L592.7,389.7 L596.8,391.5 L600.9,393.3 L605.0,395.2 L609.0,397.2 L612.8,399.1 L616.4,401.0 L619.7,402.8 L622.8,404.6 L625.7,406.4 L628.5,408.1 L631.3,410.0 L634.0,411.8 L636.8,413.7 L639.5,415.7 L642.3,417.6 L645.0,419.6 L647.8,421.7 L650.5,423.8 L653.3,425.9 L656.0,428.0 L658.8,430.2 L661.5,432.4 L664.3,434.6 L667.1,436.8 L669.9,439.1 L672.9,441.4 L676.1,443.9 L679.6,446.4 L683.3,449.1 L687.2,451.8 L691.3,454.6 L695.6,457.2 L699.9,459.6 L704.2,461.8 L702.6,465.2 L698.1,462.9 L693.7,460.4 L689.3,457.7 L685.1,454.9 L681.1,452.1 L677.4,449.4 L673.9,446.9 L670.7,444.4 L667.6,442.0 L664.8,439.7 L662.0,437.5 L659.2,435.3 L656.5,433.1 L653.7,431.0 L651.0,428.8 L648.3,426.7 L645.6,424.6 L642.8,422.6 L640.1,420.6 L637.4,418.7 L634.7,416.7 L631.9,414.9 L629.2,413.0 L626.5,411.2 L623.8,409.5 L621.0,407.7 L617.9,406.0 L614.7,404.2 L611.1,402.4 L607.3,400.5 L603.4,398.5 L599.4,396.6 L595.3,394.8 L591.3,393.1 L587.2,391.4 L583.1,389.7 L579.0,388.2 L574.9,386.6 L570.8,385.1 L566.8,383.7 L562.7,382.4 L558.6,381.1 L554.6,379.9 L550.5,378.7 L546.4,377.6 L542.3,376.6 L538.2,375.6 L534.1,374.7 L530.0,373.8 L525.8,372.9 L521.7,372.0 L517.6,371.1 L513.5,370.3 L509.4,369.5 L505.3,368.8 L501.2,368.1 L497.1,367.5 L493.0,366.9 L489.0,366.3 L484.9,365.8 L480.8,365.3 L476.7,364.8 L472.6,364.4 L468.5,364.1 L464.5,363.8 L460.4,363.5 L456.5,363.3 L452.7,363.2 L449.1,363.1 L445.5,363.0 L441.9,363.0 L438.1,363.0 L434.1,363.0 L430.0,363.0 L425.9,363.0 L421.7,363.1 L417.6,363.2 L413.4,363.3 L409.3,363.4 L405.2,363.5 L401.1,363.7 L397.0,363.9 L392.9,364.1 L388.8,364.4 L384.7,364.7 L380.7,365.0 L376.6,365.4 L372.5,365.9 L368.5,366.4 L364.4,366.9 L360.3,367.5 L356.2,368.2 L352.1,368.9 L347.9,369.6 L343.7,370.4 L339.5,371.1 L335.3,371.8 L331.2,372.5 L327.1,373.3 L323.0,374.1 L319.0,374.9 L314.9,375.9Z" fill="url(#sb)" opacity="0.65"/>
<path d="M314.9,375.9 L319.0,374.9 L323.0,374.1 L327.1,373.3 L331.2,372.5 L335.3,371.8 L339.5,371.1 L343.7,370.4 L347.9,369.6 L352.1,368.9 L356.2,368.2 L360.3,367.5 L364.4,366.9 L368.5,366.4 L372.5,365.9 L376.6,365.4 L380.7,365.0 L384.7,364.7 L388.8,364.4 L392.9,364.1 L397.0,363.9 L401.1,363.7 L405.2,363.5 L409.3,363.4 L413.4,363.3 L417.6,363.2 L421.7,363.1 L425.9,363.0 L430.0,363.0 L434.1,363.0 L438.1,363.0 L441.9,363.0 L445.5,363.0 L449.1,363.1 L452.7,363.2 L456.5,363.3 L460.4,363.5 L464.5,363.8 L468.5,364.1 L472.6,364.4 L476.7,364.8 L480.8,365.3 L484.9,365.8 L489.0,366.3 L493.0,366.9 L497.1,367.5 L501.2,368.1 L505.3,368.8 L509.4,369.5 L513.5,370.3 L517.6,371.1 L521.7,372.0 L525.8,372.9 L530.0,373.8 L534.1,374.7 L538.2,375.6 L542.3,376.6 L546.4,377.6 L550.5,378.7 L554.6,379.9 L558.6,381.1 L562.7,382.4 L566.8,383.7 L570.8,385.1 L574.9,386.6 L579.0,388.2 L583.1,389.7 L587.2,391.4 L591.3,393.1 L595.3,394.8 L599.4,396.6 L603.4,398.5 L607.3,400.5 L611.1,402.4 L614.7,404.2 L617.9,406.0 L621.0,407.7 L623.8,409.5 L626.5,411.2 L629.2,413.0 L631.9,414.9 L634.7,416.7 L637.4,418.7 L640.1,420.6 L642.8,422.6 L645.6,424.6 L648.3,426.7 L651.0,428.8 L653.7,431.0 L656.5,433.1 L659.2,435.3 L662.0,437.5 L664.8,439.7 L667.6,442.0 L670.7,444.4 L673.9,446.9 L677.4,449.4 L681.1,452.1 L685.1,454.9 L689.3,457.7 L693.7,460.4 L698.1,462.9 L702.6,465.2 L700.5,469.8 L695.7,467.4 L691.1,464.8 L686.5,462.0 L682.2,459.1 L678.1,456.3 L674.4,453.5 L670.9,450.9 L667.6,448.4 L664.5,446.0 L661.6,443.7 L658.8,441.5 L656.1,439.3 L653.3,437.1 L650.6,434.9 L647.9,432.8 L645.2,430.7 L642.6,428.7 L639.9,426.6 L637.2,424.7 L634.5,422.7 L631.8,420.8 L629.1,419.0 L626.4,417.2 L623.8,415.4 L621.1,413.7 L618.4,412.0 L615.5,410.3 L612.3,408.6 L608.8,406.8 L605.1,404.9 L601.2,403.0 L597.3,401.2 L593.3,399.4 L589.3,397.7 L585.3,396.0 L581.3,394.4 L577.2,392.8 L573.2,391.3 L569.1,389.9 L565.1,388.5 L561.1,387.2 L557.1,385.9 L553.1,384.7 L549.2,383.6 L545.2,382.5 L541.1,381.5 L537.1,380.6 L533.0,379.7 L528.9,378.7 L524.8,377.9 L520.6,377.0 L516.5,376.1 L512.5,375.3 L508.5,374.5 L504.4,373.8 L500.4,373.1 L496.3,372.5 L492.3,371.9 L488.3,371.3 L484.3,370.8 L480.2,370.3 L476.2,369.9 L472.2,369.5 L468.1,369.2 L464.1,368.9 L460.2,368.6 L456.3,368.4 L452.6,368.3 L449.0,368.2 L445.5,368.1 L441.9,368.1 L438.1,368.1 L434.1,368.1 L430.0,368.1 L425.9,368.1 L421.8,368.1 L417.7,368.2 L413.6,368.3 L409.5,368.4 L405.4,368.6 L401.3,368.7 L397.2,368.9 L393.2,369.1 L389.2,369.4 L385.2,369.7 L381.1,370.0 L377.1,370.4 L373.1,370.8 L369.1,371.3 L365.1,371.8 L361.1,372.4 L357.0,373.1 L352.9,373.8 L348.8,374.5 L344.6,375.2 L340.4,375.9 L336.2,376.6 L332.1,377.3 L328.0,378.0 L324.0,378.8 L320.1,379.7 L316.1,380.6Z" fill="url(#sb)" opacity="1.0"/></g>
<polygon points="342.5,614.4 608.8,612.8 611,635.6 338.7,636.5" fill="#e3e3e3"/>
<g stroke="#5c5c5c" stroke-width="1.4" stroke-dasharray="1.5 1.5" fill="none">
<line x1="37.5" y1="317.5" x2="918" y2="317.5"/>
<line x1="39" y1="763.8" x2="921" y2="763.8"/>
<line x1="449" y1="255.5" x2="449" y2="906"/>
</g>
<path d="M239.8,608.1 L140.33,610.70 A99.5,99.5 0 0 1 189.67,522.15Z" fill="#b9181b"/>
<path d="M239.8,608.1 L189.67,522.15 A99.5,99.5 0 0 1 337.07,587.16Z" fill="#1f647d"/>
<path d="M239.8,608.1 L337.07,587.16 A99.5,99.5 0 1 1 140.33,610.70Z" fill="#4b4a49"/>
<line x1="239.8" y1="608.1" x2="137.34" y2="610.78" stroke="#fff" stroke-width="3.2"/>
<line x1="239.8" y1="608.1" x2="188.16" y2="519.56" stroke="#fff" stroke-width="3.2"/>
<line x1="239.8" y1="608.1" x2="340.00" y2="586.53" stroke="#fff" stroke-width="3.2"/>
<circle cx="239.8" cy="608.1" r="49.6" fill="#fff"/>
<path d="M711.4,607.9 L711.40,508.20 A99.7,99.7 0 0 1 807.88,633.03Z" fill="#1f647d"/>
<path d="M711.4,607.9 L807.88,633.03 A99.7,99.7 0 0 1 617.13,640.36Z" fill="#4b4a49"/>
<path d="M711.4,607.9 L617.13,640.36 A99.7,99.7 0 0 1 711.40,508.20Z" fill="#b9181b"/>
<line x1="711.4" y1="607.9" x2="711.40" y2="505.20" stroke="#fff" stroke-width="3.2"/>
<line x1="711.4" y1="607.9" x2="810.78" y2="633.79" stroke="#fff" stroke-width="3.2"/>
<line x1="711.4" y1="607.9" x2="614.30" y2="641.34" stroke="#fff" stroke-width="3.2"/>
<circle cx="711.4" cy="607.9" r="49.5" fill="#fff"/>
<g>
<rect x="161" y="789.7" width="24.6" height="24.4" fill="#b9181b"/><rect x="161" y="830.4" width="24.6" height="24.3" fill="#1f647d"/><rect x="161" y="873.5" width="24.6" height="24.3" fill="#4b4a49"/>
<rect x="603.9" y="789.7" width="24.7" height="24.4" fill="#b9181b"/><rect x="603.9" y="830.4" width="24.7" height="24.3" fill="#1f647d"/><rect x="603.9" y="873.5" width="24.7" height="24.3" fill="#4b4a49"/>
</g>
<g id="pct" aria-label="%" fill="none" stroke="#3d3c3b" stroke-width="3.7">
<circle cx="232.7" cy="600.7" r="3.95"/><circle cx="246.9" cy="615.0" r="3.95"/>
<polygon points="246.0,595.5 250.6,595.5 233.7,620.3 229.1,620.3" fill="#3d3c3b" stroke="none"/>
</g>
<use href="#pct" x="471.7" y="-0.1"/>
<rect x="675.85" y="41.85" width="41.3" height="41.3" fill="none" stroke="#b9181b" stroke-width="3.7"/>
<path d="M687.6,55.65 H710.4 V48.5 H682.3 V62.6 H710.4 V76.5 H682.3 V69.35 H704.9" fill="none" stroke="#b9181b" stroke-width="3.2" stroke-linejoin="miter"/>
</svg>
<span class="t" style="left:33.84px;top:38.72px;font-size:40.5px;font-weight:bold;color:#b9181b;transform:scaleX(0.9610)">Ambitious</span>
<span class="t" style="left:243.70px;top:38.72px;font-size:40.5px;font-weight:bold;color:#b9181b;transform:scaleX(1.0034)">targets:</span>
<span class="t" style="left:403.59px;top:37.87px;font-size:41.5px;color:#b9181b;-webkit-text-stroke:0.7px #fff;transform:scaleX(0.9552)">China’s</span>
<span class="t" style="left:34.14px;top:87.67px;font-size:41.5px;color:#b9181b;-webkit-text-stroke:0.7px #fff;transform:scaleX(1.0312)">automotive</span>
<span class="t" style="left:257.15px;top:87.67px;font-size:41.5px;color:#b9181b;-webkit-text-stroke:0.7px #fff;transform:scaleX(1.0183)">industry</span>
<span class="t" style="left:418.42px;top:87.67px;font-size:41.5px;color:#b9181b;-webkit-text-stroke:0.7px #fff;transform:scaleX(1.0417)">growth</span>
<span class="t" style="left:33.93px;top:136.87px;font-size:41.5px;color:#b9181b;-webkit-text-stroke:0.7px #fff;transform:scaleX(1.0233)">plan</span>
<span class="t" style="left:127.03px;top:136.87px;font-size:41.5px;color:#b9181b;-webkit-text-stroke:0.7px #fff;transform:scaleX(0.9578)">(2025–2026)</span>
<span class="t" style="left:733.85px;top:35.61px;font-size:46.3px;color:#474746;-webkit-text-stroke:0.5px #fff;transform:scaleX(1.0239)">sinolytics</span>
<span class="t" style="left:48.00px;top:255.12px;font-size:21px;color:#3c3c3b;-webkit-text-stroke:0.25px;transform:scaleX(1.0977)">More than half of Chinese automotive</span>
<span class="t" style="left:48.84px;top:284.72px;font-size:21px;color:#3c3c3b;-webkit-text-stroke:0.25px;transform:scaleX(1.0634)">dealerships report losses</span>
<span class="t" style="left:473.90px;top:255.12px;font-size:21px;color:#3c3c3b;-webkit-text-stroke:0.25px;transform:scaleX(1.0865)">Automotive sales slump significantly as</span>
<span class="t" style="left:472.88px;top:284.72px;font-size:21px;color:#3c3c3b;-webkit-text-stroke:0.25px;transform:scaleX(1.1150)">dealers report difficulties</span>
<span class="t" style="left:81.78px;top:533.00px;font-size:34.5px;font-weight:bold;color:#b9181b;transform:scaleX(0.8578)">17.5</span>
<span class="t" style="left:307.09px;top:497.64px;font-size:34.8px;font-weight:bold;color:#1f647d;transform:scaleX(1.0123)">29.9</span>
<span class="t" style="left:204.20px;top:715.14px;font-size:34.8px;font-weight:bold;color:#4b4a49;transform:scaleX(0.9954)">52.6</span>
<span class="t" style="left:585.18px;top:487.34px;font-size:34.8px;font-weight:bold;color:#b9181b;transform:scaleX(1.0231)">30.3</span>
<span class="t" style="left:800.50px;top:523.94px;font-size:34.8px;font-weight:bold;color:#1f647d;transform:scaleX(1.0046)">29.0</span>
<span class="t" style="left:678.10px;top:715.10px;font-size:34.5px;font-weight:bold;color:#4b4a49;transform:scaleX(1.0212)">40.7</span>
<span class="t" style="left:191.88px;top:794.80px;font-size:15px;color:#3c3c3b;-webkit-text-stroke:0.2px;transform:scaleX(1.1242)">Profitable</span>
<span class="t" style="left:191.93px;top:835.90px;font-size:15px;color:#3c3c3b;-webkit-text-stroke:0.2px;transform:scaleX(1.0660)">Breaking even</span>
<span class="t" style="left:191.94px;top:878.00px;font-size:15px;color:#3c3c3b;-webkit-text-stroke:0.2px;transform:scaleX(1.0574)">Making losses</span>
<span class="t" style="left:635.70px;top:794.80px;font-size:15px;color:#3c3c3b;-webkit-text-stroke:0.2px;transform:scaleX(1.0825)">Achieved sales target</span>
<span class="t" style="left:635.70px;top:835.90px;font-size:15px;color:#3c3c3b;-webkit-text-stroke:0.2px;transform:scaleX(1.0567)">Achieved &lt;70% of sales target</span>
<span class="t" style="left:635.70px;top:878.00px;font-size:15px;color:#3c3c3b;-webkit-text-stroke:0.2px;transform:scaleX(1.0522)">Achieved &gt;70% of sales target</span>
<span class="t" style="left:2.82px;top:974.59px;font-size:16.2px;color:#3c3c3b;transform:scaleX(1.0802)">Source: Sina.com</span>
</body></html>
